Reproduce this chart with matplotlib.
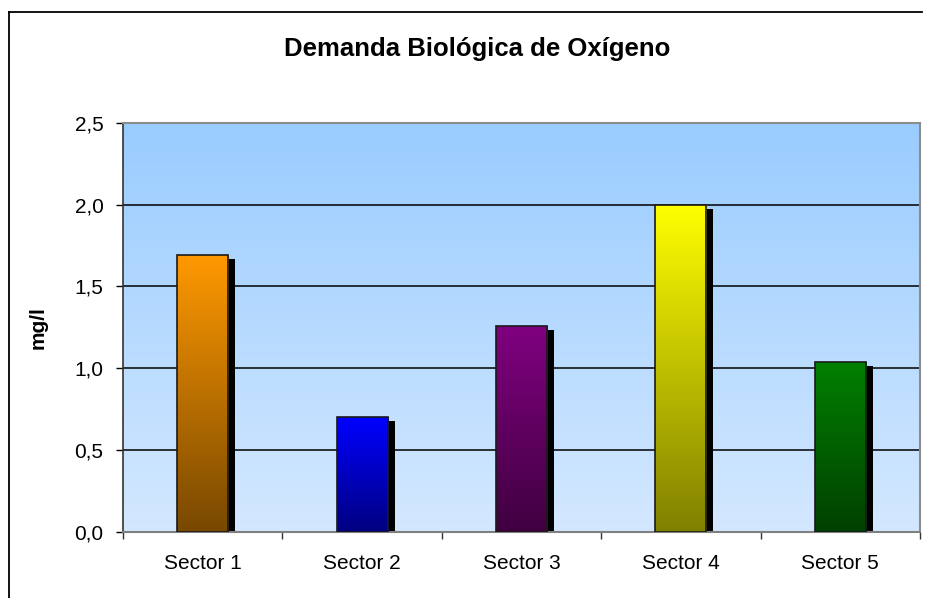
import numpy as np
import matplotlib.pyplot as plt
import matplotlib.transforms as mtransforms
from matplotlib.colors import LinearSegmentedColormap
from matplotlib.lines import Line2D

plt.rcParams['font.family'] = ['Liberation Sans', 'DejaVu Sans']

# Data
sectors = ['Sector 1', 'Sector 2', 'Sector 3', 'Sector 4', 'Sector 5']
dbo = [1.69, 0.70, 1.26, 2.00, 1.04]
yticks = [0.0, 0.5, 1.0, 1.5, 2.0, 2.5]
ytick_labels = ['0,0', '0,5', '1,0', '1,5', '2,0', '2,5']

# gradient colours per bar (top, bottom)
bar_colors = [
    ('#FF9900', '#784800'),
    ('#0000FF', '#000080'),
    ('#800080', '#400040'),
    ('#FFFF00', '#808000'),
    ('#008000', '#004000'),
]

fig = plt.figure(figsize=(9.26, 5.98), dpi=100)
ax = fig.add_axes([0.1328, 0.1104, 0.8607, 0.6844])

x = np.arange(len(sectors))
width = 0.32

ax.set_xlim(-0.5, len(sectors) - 0.5)
ax.set_ylim(0, 2.5)

# plot area background gradient
bg = LinearSegmentedColormap.from_list('bg', ['#D4E8FF', '#99CCFF'])
grad = np.linspace(0, 1, 256).reshape(-1, 1)
ax.imshow(grad, cmap=bg, origin='lower', aspect='auto',
          extent=(-0.5, len(sectors) - 0.5, 0, 2.5), zorder=0)

# gridlines
for yv in yticks[1:-1]:
    ax.axhline(yv, color='black', lw=1.1, zorder=1)

# shadows
shadow_tr = mtransforms.offset_copy(ax.transData, fig=fig, x=7, y=-4, units='dots')
ax.bar(x, dbo, width=width, color='black', transform=shadow_tr, zorder=2)

# bars with gradient fill
bars = ax.bar(x, dbo, width=width, color='none', edgecolor='#1a1a1a', lw=1.2, zorder=4)
for b, (top, bot) in zip(bars, bar_colors):
    cm = LinearSegmentedColormap.from_list('c', [bot, top])
    x0, y0 = b.get_x(), b.get_y()
    im = ax.imshow(grad, cmap=cm, origin='lower', aspect='auto',
                   extent=(x0, x0 + b.get_width(), y0, y0 + b.get_height()), zorder=3)
    im.set_clip_path(b)

ax.set_xlim(-0.5, len(sectors) - 0.5)
ax.set_ylim(0, 2.5)

# axes styling
for s in ['top', 'right']:
    ax.spines[s].set_color('#8c8c8c')
    ax.spines[s].set_linewidth(1.5)
ax.spines['left'].set_color('#333333')
ax.spines['bottom'].set_color('#808080')
ax.spines['left'].set_linewidth(1.2)
ax.spines['bottom'].set_linewidth(1.5)

ax.set_yticks(yticks)
ax.set_yticklabels(ytick_labels, fontsize=15)
ax.tick_params(axis='y', direction='out', length=5, width=1, pad=9)

ax.set_xticks(np.arange(-0.5, len(sectors)), minor=False)
ax.set_xticklabels([])
ax.tick_params(axis='x', which='major', direction='out', length=5, width=1, color='#333333')
ax.set_xticks(x, minor=True)
ax.set_xticklabels(sectors, minor=True, fontsize=15)
ax.tick_params(axis='x', which='minor', length=0, pad=16)

ax.set_ylabel('mg/l', fontsize=15, fontweight='bold', labelpad=19)

fig.text(0.515, 0.918, 'Demanda Biológica de Oxígeno', ha='center', va='center',
         fontsize=18.5, fontweight='bold')

# chart area frame
fig.add_artist(Line2D([9 / 926, 922 / 926], [1 - 12 / 598, 1 - 12 / 598],
                      transform=fig.transFigure, color='black', lw=1.3))
fig.add_artist(Line2D([9 / 926, 9 / 926], [0, 1 - 12 / 598],
                      transform=fig.transFigure, color='black', lw=1.3))

fig.savefig('out.png', dpi=100)
